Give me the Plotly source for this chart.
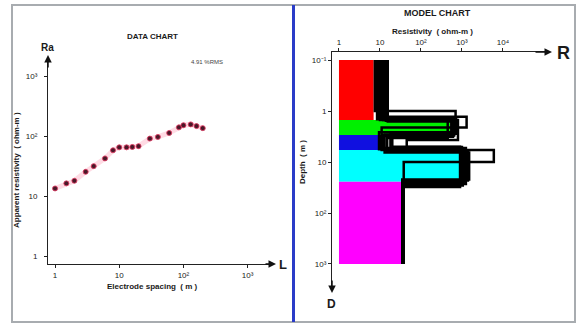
import plotly.graph_objects as go

W, H = 581, 327
FONT = "Liberation Sans"

# ---------------- data chart (left) ----------------
spacing = [1, 1.5, 2, 3, 4, 6, 8, 10, 13, 16, 20, 30, 40, 60, 85, 100, 130, 160, 200]
app_res = [13.4, 16.3, 18, 25.4, 31.6, 42.5, 58, 65, 65, 66, 68, 91, 97, 113, 140, 152, 157, 147, 136]

# ---------------- model chart (right) ----------------
layer_rho = [7, 510, 9, 1150, 36]
layer_top = [0.1, 1.5, 2.95, 5.8, 24.5]
layer_bot = [1.5, 2.95, 5.8, 24.5, 1000]
layer_colors = ["#ff0000", "#00f000", "#1010e0", "#00ffff", "#ff00ff"]

# equivalent models: resistivities and layer-bottom depths
equiv_rho = [
    [7.5, 700, 9.5, 1200, 37],
    [10, 650, 12, 1100, 36],
    [13, 1300, 11, 6000, 38],
    [15.5, 600, 20, 900, 37],
    [12, 800, 45, 1000, 36],
    [9, 550, 13, 1500, 35],
    [14, 450, 15, 1400, 36],
    [8.5, 620, 10.5, 1250, 37],
    [11, 720, 18, 1050, 38],
]
equiv_depth = [
    [1.0, 2.6, 5.6, 24],
    [1.5, 3.0, 5.5, 26],
    [1.3, 2.1, 5.8, 10],
    [1.6, 3.2, 5.0, 31],
    [1.5, 3.7, 5.1, 28],
    [1.4, 2.9, 6.5, 22],
    [1.55, 3.4, 6.0, 23],
    [1.45, 3.1, 5.3, 27],
    [1.35, 2.8, 5.4, 29],
]
depth_top, depth_bottom = 0.1, 1000

xl_ticks = [1, 10, 100, 1000]
xl_text = ["1", "10", "10²", "10³"]
yl_ticks = [1, 10, 100, 1000]
yl_text = ["1", "10", "10²", "10³"]
xr_ticks = [1, 10, 100, 1000, 10000]
xr_text = ["1", "10", "10²", "10³", "10⁴"]
yr_ticks = [0.1, 1, 10, 100, 1000]
yr_text = ["10⁻¹", "1", "10", "10²", "10³"]


def px(x):
    return x / W


def py(y):
    return 1 - y / H


fig = go.Figure()

# left: faint theoretical curve + measured points
fig.add_trace(go.Scatter(x=spacing, y=app_res, mode="lines",
                         line=dict(color="rgba(255,90,130,0.22)", width=5),
                         xaxis="x", yaxis="y", hoverinfo="skip"))
fig.add_trace(go.Scatter(x=spacing, y=app_res, mode="markers",
                         marker=dict(size=5, color="#4a1828",
                                     line=dict(color="rgba(225,60,100,0.85)", width=1)),
                         xaxis="x", yaxis="y"))

# right: coloured layer blocks
for rho, top, bot, col in zip(layer_rho, layer_top, layer_bot, layer_colors):
    fig.add_trace(go.Scatter(x=[1, rho, rho, 1, 1], y=[top, top, bot, bot, top],
                             mode="lines", fill="toself", fillcolor=col,
                             line=dict(width=0, color=col),
                             xaxis="x2", yaxis="y2", hoverinfo="skip"))

# right: equivalent model outlines (step curves)
for rhos, deps in zip(equiv_rho, equiv_depth):
    xs, ys = [], []
    bounds = [depth_top] + deps + [depth_bottom]
    for i, r in enumerate(rhos):
        xs += [r, r]
        ys += [bounds[i], bounds[i + 1]]
    fig.add_trace(go.Scatter(x=xs, y=ys, mode="lines",
                             line=dict(color="black", width=2.5),
                             xaxis="x2", yaxis="y2", hoverinfo="skip"))

axis_common = dict(showgrid=False, zeroline=False, showline=True,
                   linecolor="#222", linewidth=1, ticks="outside", ticklen=3,
                   tickcolor="#222",
                   tickfont=dict(family=FONT, size=8, color="#222"))

fig.update_layout(
    width=W, height=H, margin=dict(l=0, r=0, t=0, b=0),
    paper_bgcolor="white", plot_bgcolor="rgba(0,0,0,0)", showlegend=False,
    xaxis=dict(type="log", range=[-0.11, 3.38], domain=[px(48), px(272)],
               anchor="y", tickvals=xl_ticks, ticktext=xl_text, **axis_common),
    yaxis=dict(type="log", range=[-0.133, 3.27], domain=[py(264), py(60)],
               anchor="x", tickvals=yl_ticks, ticktext=yl_text,
               ticklabelstandoff=5, **axis_common),
    xaxis2=dict(type="log", range=[-0.17, 5.1], domain=[px(332), px(548)],
                anchor="y2", side="top", tickvals=xr_ticks, ticktext=xr_text,
                **axis_common),
    yaxis2=dict(type="log", range=[3.51, -1.157], domain=[py(290), py(52)],
                anchor="x2", tickvals=yr_ticks, ticktext=yr_text, **axis_common),
)

# frame and divider
fig.add_shape(type="rect", xref="paper", yref="paper",
              x0=px(12), x1=px(575), y0=py(322), y1=py(5),
              line=dict(color="#a8acb0", width=2))
fig.add_shape(type="line", xref="paper", yref="paper",
              x0=px(293.5), x1=px(293.5), y0=py(322), y1=py(5),
              line=dict(color="#2a3cc8", width=3))


def txt(x, y, s, size, bold=True, angle=0, color="#1a1a1a"):
    fig.add_annotation(x=px(x), y=py(y), xref="paper", yref="paper",
                       text=("<b>%s</b>" % s) if bold else s, showarrow=False,
                       textangle=angle, xanchor="center", yanchor="middle",
                       font=dict(family=FONT, size=size, color=color))


def arrow(x, y, ax, ay):
    fig.add_annotation(x=px(x), y=py(y), xref="paper", yref="paper", text="",
                       showarrow=True, ax=ax, ay=ay, arrowhead=2, arrowsize=1,
                       arrowwidth=1.5, arrowcolor="#111")


txt(152, 36, "DATA CHART", 8)
txt(207, 62, "4.91 %RMS", 6, bold=False, color="#444")
txt(47, 47, "Ra", 10)
txt(17, 170, "Apparent resistivity  ( ohm-m )", 8, angle=-90)
txt(152, 286, "Electrode spacing  ( m )", 8)
txt(283, 264, "L", 13)
arrow(276, 264, -12, 0)
arrow(48, 55, 0, 14)

txt(437, 13, "MODEL CHART", 9)
txt(432, 31, "Resistivity  ( ohm-m )", 8)
txt(563, 53, "R", 18)
arrow(552, 52, -18, 0)
txt(302, 162, "Depth  ( m )", 8, angle=-90)
txt(331, 304, "D", 12)
arrow(332, 293, 0, -14)

fig.write_html("out.html", config={"displayModeBar": False},
               post_script="document.body.style.margin='0';document.body.style.overflow='hidden';")
